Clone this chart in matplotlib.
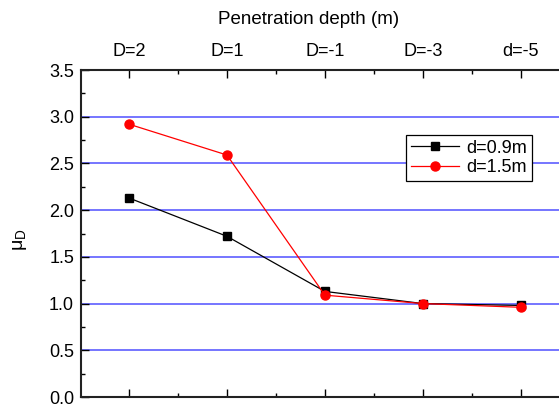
import numpy as np
import matplotlib
matplotlib.use("Agg")
import matplotlib.pyplot as plt
from matplotlib.ticker import MultipleLocator, FormatStrFormatter

categories = ["D=2", "D=1", "D=-1", "D=-3", "d=-5"]
mu_09 = [2.13, 1.72, 1.13, 1.00, 0.98]
mu_15 = [2.92, 2.59, 1.09, 1.00, 0.96]

plt.rcParams["font.family"] = ["Liberation Sans", "DejaVu Sans"]
plt.rcParams["font.size"] = 13

W, H = 559, 405
fig = plt.figure(figsize=(W / 100, H / 100), dpi=100)
ax = fig.add_axes([81 / W, 1 - 397 / H, 1 - 81 / W, (397 - 70) / H])

x = np.arange(len(categories))

# blue horizontal lines
for g in np.arange(0.5, 3.01, 0.5):
    ax.axhline(g, color="#6a6aff", lw=1.3, zorder=1)

ax.plot(x, mu_09, color="black", lw=0.9, marker="s", ms=5.2, label="d=0.9m", zorder=3)
ax.plot(x, mu_15, color="red", lw=0.9, marker="o", ms=6.5, label="d=1.5m", zorder=4)

ax.set_xlim(-0.49, 4.39)
ax.set_ylim(0, 3.5)

ax.xaxis.tick_top()
ax.set_xticks(x)
ax.set_xticklabels(categories)
ax.xaxis.set_minor_locator(MultipleLocator(0.5))
ax.yaxis.set_major_locator(MultipleLocator(0.5))
ax.yaxis.set_minor_locator(MultipleLocator(0.25))
ax.yaxis.set_major_formatter(FormatStrFormatter("%.1f"))
ax.tick_params(axis="both", which="both", direction="in", width=1, colors="black")
ax.tick_params(axis="x", which="both", top=True, bottom=True, labeltop=True, labelbottom=False)
ax.tick_params(which="major", length=6)
ax.tick_params(which="minor", length=3)
ax.tick_params(axis="x", which="major", pad=7)
ax.tick_params(axis="y", which="major", pad=5)

for side in ["left", "top", "bottom"]:
    ax.spines[side].set_linewidth(1.5)
    ax.spines[side].set_color("#222222")
ax.spines["right"].set_visible(False)

fig.text(20 / W, 1 - 240 / H, r"$\mathregular{\mu_D}$", fontsize=14, rotation=90,
         ha="center", va="center")
fig.text(309 / W, 1 - 20 / H, "Penetration depth (m)", ha="center", va="center", fontsize=13.5)

leg = ax.legend(loc="upper left", bbox_to_anchor=((406 - 81) / 478, (397 - 135) / 327),
                frameon=True, fancybox=False, edgecolor="black", framealpha=1,
                borderpad=0.25, handlelength=2.7, labelspacing=0.15, handletextpad=0.4,
                borderaxespad=0, fontsize=13)
leg.get_frame().set_linewidth(0.9)

plt.savefig("out.png", dpi=100)
